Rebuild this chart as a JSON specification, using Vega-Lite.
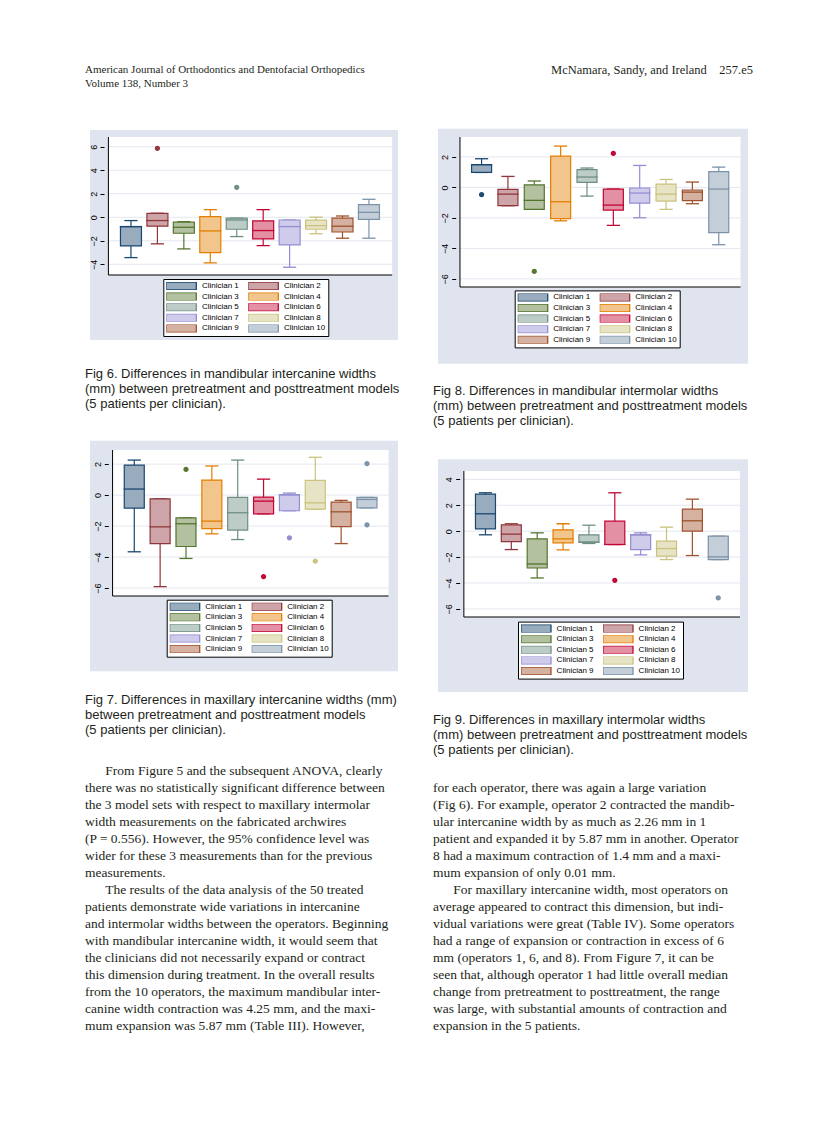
{
  "$schema": "https://vega.github.io/schema/vega-lite/v6.json",
  "background": "#ffffff",
  "padding": {"left": 85, "top": 60, "right": 10, "bottom": 10},
  "spacing": 0,
  "resolve": {"scale": {"fill": "independent", "stroke": "independent"}},
  "config": {"view": {"stroke": null}, "font": "Liberation Sans", "concat": {"spacing": 0}, "axis": {"labelOverlap": false}, "axisY": {"labelOverlap": false}, "legend": {"labelColor": "#000000"}},
  "datasets": {
    "f6": [
      {"clin": 1, "name": "Clinician 1", "lo": -3.43, "q1": -2.44, "med": -0.79, "q3": -0.79, "hi": -0.28},
      {"clin": 2, "name": "Clinician 2", "lo": -2.26, "q1": -0.76, "med": -0.28, "q3": 0.34, "hi": 0.34},
      {"clin": 3, "name": "Clinician 3", "lo": -2.69, "q1": -1.36, "med": -0.85, "q3": -0.42, "hi": -0.37},
      {"clin": 4, "name": "Clinician 4", "lo": -3.88, "q1": -3.0, "med": -1.16, "q3": 0.06, "hi": 0.65},
      {"clin": 5, "name": "Clinician 5", "lo": -1.64, "q1": -1.02, "med": -0.23, "q3": -0.08, "hi": -0.08},
      {"clin": 6, "name": "Clinician 6", "lo": -2.41, "q1": -1.84, "med": -1.13, "q3": -0.31, "hi": 0.65},
      {"clin": 7, "name": "Clinician 7", "lo": -4.25, "q1": -2.35, "med": -0.79, "q3": -0.23, "hi": -0.23},
      {"clin": 8, "name": "Clinician 8", "lo": -1.4, "q1": -1.02, "med": -0.71, "q3": -0.25, "hi": 0.01},
      {"clin": 9, "name": "Clinician 9", "lo": -1.78, "q1": -1.25, "med": -0.76, "q3": -0.08, "hi": 0.11},
      {"clin": 10, "name": "Clinician 10", "lo": -1.78, "q1": -0.17, "med": 0.42, "q3": 1.08, "hi": 1.53}
    ],
    "f6o": [
      {"clin": 2, "name": "Clinician 2", "v": 5.87},
      {"clin": 5, "name": "Clinician 5", "v": 2.55}
    ],
    "f8": [
      {"clin": 1, "name": "Clinician 1", "lo": 0.98, "q1": 0.98, "med": 1.49, "q3": 1.49, "hi": 1.88},
      {"clin": 2, "name": "Clinician 2", "lo": -1.2, "q1": -1.2, "med": -0.44, "q3": -0.13, "hi": 0.72},
      {"clin": 3, "name": "Clinician 3", "lo": -1.44, "q1": -1.44, "med": -0.85, "q3": 0.17, "hi": 0.42},
      {"clin": 4, "name": "Clinician 4", "lo": -2.19, "q1": -2.05, "med": -0.94, "q3": 2.05, "hi": 2.71},
      {"clin": 5, "name": "Clinician 5", "lo": -0.57, "q1": 0.33, "med": 0.68, "q3": 1.16, "hi": 1.27},
      {"clin": 6, "name": "Clinician 6", "lo": -2.49, "q1": -1.49, "med": -1.16, "q3": -0.11, "hi": -0.11},
      {"clin": 7, "name": "Clinician 7", "lo": -1.99, "q1": -1.03, "med": -0.37, "q3": -0.04, "hi": 1.44},
      {"clin": 8, "name": "Clinician 8", "lo": -1.44, "q1": -0.9, "med": -0.44, "q3": 0.22, "hi": 0.52},
      {"clin": 9, "name": "Clinician 9", "lo": -1.07, "q1": -0.87, "med": -0.31, "q3": -0.17, "hi": 0.35},
      {"clin": 10, "name": "Clinician 10", "lo": -3.76, "q1": -2.97, "med": -0.11, "q3": 1.03, "hi": 1.33}
    ],
    "f8o": [
      {"clin": 1, "name": "Clinician 1", "v": -0.48},
      {"clin": 3, "name": "Clinician 3", "v": -5.51},
      {"clin": 6, "name": "Clinician 6", "v": 2.23}
    ],
    "f7": [
      {"clin": 1, "name": "Clinician 1", "lo": -3.66, "q1": -0.84, "med": 0.39, "q3": 1.94, "hi": 2.26},
      {"clin": 2, "name": "Clinician 2", "lo": -5.91, "q1": -3.13, "med": -2.05, "q3": -0.24, "hi": -0.24},
      {"clin": 3, "name": "Clinician 3", "lo": -4.09, "q1": -3.32, "med": -1.85, "q3": -1.47, "hi": -1.47},
      {"clin": 4, "name": "Clinician 4", "lo": -2.5, "q1": -2.16, "med": -1.68, "q3": 0.97, "hi": 1.88},
      {"clin": 5, "name": "Clinician 5", "lo": -2.87, "q1": -2.26, "med": -1.14, "q3": -0.15, "hi": 2.26},
      {"clin": 6, "name": "Clinician 6", "lo": -1.21, "q1": -1.21, "med": -0.39, "q3": -0.13, "hi": 1.03},
      {"clin": 7, "name": "Clinician 7", "lo": -1.01, "q1": -1.01, "med": 0.02, "q3": 0.02, "hi": 0.13},
      {"clin": 8, "name": "Clinician 8", "lo": -0.91, "q1": -0.91, "med": -0.5, "q3": 0.95, "hi": 2.44},
      {"clin": 9, "name": "Clinician 9", "lo": -3.13, "q1": -2.03, "med": -1.08, "q3": -0.45, "hi": -0.34},
      {"clin": 10, "name": "Clinician 10", "lo": -0.82, "q1": -0.82, "med": -0.28, "q3": -0.15, "hi": -0.15}
    ],
    "f7o": [
      {"clin": 3, "name": "Clinician 3", "v": 1.66},
      {"clin": 6, "name": "Clinician 6", "v": -5.26},
      {"clin": 7, "name": "Clinician 7", "v": -2.76},
      {"clin": 8, "name": "Clinician 8", "v": -4.27},
      {"clin": 10, "name": "Clinician 10", "v": 2.03},
      {"clin": 10, "name": "Clinician 10", "v": -1.92}
    ],
    "f9": [
      {"clin": 1, "name": "Clinician 1", "lo": -0.28, "q1": 0.18, "med": 1.34, "q3": 2.86, "hi": 2.96},
      {"clin": 2, "name": "Clinician 2", "lo": -1.42, "q1": -0.8, "med": -0.23, "q3": 0.49, "hi": 0.57},
      {"clin": 3, "name": "Clinician 3", "lo": -3.61, "q1": -2.84, "med": -2.53, "q3": -0.59, "hi": -0.13},
      {"clin": 4, "name": "Clinician 4", "lo": -1.44, "q1": -0.9, "med": -0.59, "q3": 0.1, "hi": 0.57},
      {"clin": 5, "name": "Clinician 5", "lo": -0.95, "q1": -0.85, "med": -0.85, "q3": -0.28, "hi": 0.46},
      {"clin": 6, "name": "Clinician 6", "lo": -1.03, "q1": -1.03, "med": -1.03, "q3": 0.77, "hi": 2.96},
      {"clin": 7, "name": "Clinician 7", "lo": -1.83, "q1": -1.42, "med": -0.28, "q3": -0.28, "hi": -0.13},
      {"clin": 8, "name": "Clinician 8", "lo": -2.19, "q1": -1.93, "med": -1.34, "q3": -0.77, "hi": 0.31},
      {"clin": 9, "name": "Clinician 9", "lo": -1.88, "q1": 0.0, "med": 0.8, "q3": 1.7, "hi": 2.47},
      {"clin": 10, "name": "Clinician 10", "lo": -2.19, "q1": -2.19, "med": -1.98, "q3": -0.39, "hi": -0.39}
    ],
    "f9o": [
      {"clin": 6, "name": "Clinician 6", "v": -3.79},
      {"clin": 10, "name": "Clinician 10", "v": -5.15}
    ],
    "g6": [{"g": -4}, {"g": -2}, {"g": 0}, {"g": 2}, {"g": 4}, {"g": 6}],
    "g8": [{"g": -6}, {"g": -4}, {"g": -2}, {"g": 0}, {"g": 2}],
    "g9": [{"g": -6}, {"g": -4}, {"g": -2}, {"g": 0}, {"g": 2}, {"g": 4}],
    "panel": [{"p": "panel"}],
    "hdrL": [
      {"line": 1, "txt": "American Journal of Orthodontics and Dentofacial Orthopedics"},
      {"line": 2, "txt": "Volume 138, Number 3"}
    ],
    "hdrR": [
      {"line": 1, "txt": "McNamara, Sandy, and Ireland\u2003257.e5"}
    ],
    "cap6": [
      {"line": 1, "txt": "Fig 6. Differences in mandibular intercanine widths"},
      {"line": 2, "txt": "(mm) between pretreatment and posttreatment models"},
      {"line": 3, "txt": "(5 patients per clinician)."}
    ],
    "cap8": [
      {"line": 1, "txt": "Fig 8. Differences in mandibular intermolar widths"},
      {"line": 2, "txt": "(mm) between pretreatment and posttreatment models"},
      {"line": 3, "txt": "(5 patients per clinician)."}
    ],
    "cap7": [
      {"line": 1, "txt": "Fig 7. Differences in maxillary intercanine widths (mm)"},
      {"line": 2, "txt": "between pretreatment and posttreatment models"},
      {"line": 3, "txt": "(5 patients per clinician)."}
    ],
    "cap9": [
      {"line": 1, "txt": "Fig 9. Differences in maxillary intermolar widths"},
      {"line": 2, "txt": "(mm) between pretreatment and posttreatment models"},
      {"line": 3, "txt": "(5 patients per clinician)."}
    ],
    "bodyL": [
      {"line": 1, "txt": "\u200b\u2003\u2002From Figure 5 and the subsequent ANOVA, clearly"},
      {"line": 2, "txt": "there was no statistically significant difference between"},
      {"line": 3, "txt": "the 3 model sets with respect to maxillary intermolar"},
      {"line": 4, "txt": "width measurements on the fabricated archwires"},
      {"line": 5, "txt": "(P = 0.556). However, the 95% confidence level was"},
      {"line": 6, "txt": "wider for these 3 measurements than for the previous"},
      {"line": 7, "txt": "measurements."},
      {"line": 8, "txt": "\u200b\u2003\u2002The results of the data analysis of the 50 treated"},
      {"line": 9, "txt": "patients demonstrate wide variations in intercanine"},
      {"line": 10, "txt": "and intermolar widths between the operators. Beginning"},
      {"line": 11, "txt": "with mandibular intercanine width, it would seem that"},
      {"line": 12, "txt": "the clinicians did not necessarily expand or contract"},
      {"line": 13, "txt": "this dimension during treatment. In the overall results"},
      {"line": 14, "txt": "from the 10 operators, the maximum mandibular inter-"},
      {"line": 15, "txt": "canine width contraction was 4.25 mm, and the maxi-"},
      {"line": 16, "txt": "mum expansion was 5.87 mm (Table III). However,"}
    ],
    "bodyR": [
      {"line": 1, "txt": "for each operator, there was again a large variation"},
      {"line": 2, "txt": "(Fig 6). For example, operator 2 contracted the mandib-"},
      {"line": 3, "txt": "ular intercanine width by as much as 2.26 mm in 1"},
      {"line": 4, "txt": "patient and expanded it by 5.87 mm in another. Operator"},
      {"line": 5, "txt": "8 had a maximum contraction of 1.4 mm and a maxi-"},
      {"line": 6, "txt": "mum expansion of only 0.01 mm."},
      {"line": 7, "txt": "\u200b\u2003\u2002For maxillary intercanine width, most operators on"},
      {"line": 8, "txt": "average appeared to contract this dimension, but indi-"},
      {"line": 9, "txt": "vidual variations were great (Table IV). Some operators"},
      {"line": 10, "txt": "had a range of expansion or contraction in excess of 6"},
      {"line": 11, "txt": "mm (operators 1, 6, and 8). From Figure 7, it can be"},
      {"line": 12, "txt": "seen that, although operator 1 had little overall median"},
      {"line": 13, "txt": "change from pretreatment to posttreatment, the range"},
      {"line": 14, "txt": "was large, with substantial amounts of contraction and"},
      {"line": 15, "txt": "expansion in the 5 patients."}
    ]
  },
  "vconcat": [
    {
      "width": 668, "height": 68,
      "layer": [
        {
          "data": {"name": "hdrL"},
          "mark": {"type": "text", "align": "left", "baseline": "middle", "font": "Liberation Serif", "fontSize": 11, "color": "#231f20"},
          "encoding": {
            "x": {"datum": 0, "type": "quantitative", "scale": {"domain": [0, 1], "nice": false, "zero": false}, "axis": null},
            "y": {"field": "line", "type": "quantitative", "scale": {"domain": [0.286, 5.143], "reverse": true, "nice": false, "zero": false}, "axis": null},
            "text": {"field": "txt"}
          }
        },
        {
          "data": {"name": "hdrR"},
          "mark": {"type": "text", "align": "right", "baseline": "middle", "font": "Liberation Serif", "fontSize": 12.5, "color": "#231f20"},
          "encoding": {
            "x": {"datum": 1, "type": "quantitative", "axis": null},
            "y": {"field": "line", "type": "quantitative", "axis": null},
            "text": {"field": "txt"}
          }
        }
      ]
    },
    {
      "spacing": 30,
      "resolve": {"scale": {"fill": "independent", "stroke": "independent"}},
      "hconcat": [
        {
          "spacing": 0,
          "resolve": {"scale": {"fill": "independent", "stroke": "independent"}},
          "vconcat": [
            {
              "width": 318, "height": 138,
              "layer": [
                {"data": {"name": "panel"}, "mark": {"type": "rect", "color": "#dfe4ee"},
                 "encoding": {"x": {"datum": -0.549, "type": "quantitative", "scale": {"domain": [-0.549, 11.099], "nice": false, "zero": false}, "axis": null}, "x2": {"datum": 11.099},
                              "y": {"datum": -10.43, "type": "quantitative", "scale": {"domain": [-4.91, 6.83], "nice": false, "zero": false}}, "y2": {"datum": 7.42}}},
                {"data": {"name": "panel"}, "mark": {"type": "rect", "color": "#ffffff"},
                 "encoding": {"x": {"datum": 0.147, "type": "quantitative", "axis": null}, "x2": {"datum": 10.879},
                              "y": {"datum": -4.91, "type": "quantitative"}, "y2": {"datum": 6.83}}},
                {"data": {"name": "g6"}, "mark": {"type": "rule", "color": "#e3e7ef", "strokeWidth": 1},
                 "encoding": {"x": {"datum": 0.147, "type": "quantitative", "axis": null}, "x2": {"datum": 10.879},
                              "y": {"field": "g", "type": "quantitative", "axis": {"values": [-4, -2, 0, 2, 4, 6], "format": "d", "tickCount": 20, "offset": -19, "title": null, "grid": false, "domain": false, "labelOverlap": false, "labelAngle": -90, "labelFont": "Liberation Sans", "labelFontSize": 9, "labelColor": "#000000", "tickColor": "#000000", "tickSize": 4, "tickWidth": 1, "labelPadding": 2, "zindex": 1}}}},
                {"data": {"name": "panel"}, "mark": {"type": "rule", "color": "#000000", "strokeWidth": 1},
                 "encoding": {"x": {"datum": 0.147, "type": "quantitative", "axis": null}, "y": {"datum": -4.91, "type": "quantitative"}, "y2": {"datum": 6.83}}},
                {"data": {"name": "panel"}, "mark": {"type": "rule", "color": "#000000", "strokeWidth": 1},
                 "encoding": {"x": {"datum": 0.147, "type": "quantitative", "axis": null}, "x2": {"datum": 10.879}, "y": {"datum": -4.91, "type": "quantitative"}}},
                {"data": {"name": "f6"}, "mark": {"type": "rule", "strokeWidth": 1.2},
                 "encoding": {"x": {"field": "clin", "type": "quantitative", "axis": null},
                              "y": {"field": "lo", "type": "quantitative"}, "y2": {"field": "hi"},
                              "stroke": {"field": "name", "type": "nominal", "scale": {"domain": ["Clinician 1", "Clinician 2", "Clinician 3", "Clinician 4", "Clinician 5", "Clinician 6", "Clinician 7", "Clinician 8", "Clinician 9", "Clinician 10"], "range": ["#1a476f", "#90353b", "#55752f", "#e37e00", "#6e8e84", "#c10534", "#938dd2", "#cac27e", "#a0522d", "#7b92a8"]}}}},
                {"data": {"name": "f6"}, "mark": {"type": "tick", "orient": "horizontal", "size": 12, "thickness": 0.1, "filled": false, "strokeWidth": 1.2, "opacity": 1},
                 "encoding": {"x": {"field": "clin", "type": "quantitative", "axis": null}, "y": {"field": "lo", "type": "quantitative"}, "stroke": {"field": "name", "type": "nominal"}}},
                {"data": {"name": "f6"}, "mark": {"type": "tick", "orient": "horizontal", "size": 12, "thickness": 0.1, "filled": false, "strokeWidth": 1.2, "opacity": 1},
                 "encoding": {"x": {"field": "clin", "type": "quantitative", "axis": null}, "y": {"field": "hi", "type": "quantitative"}, "stroke": {"field": "name", "type": "nominal"}}},
                {"data": {"name": "f6"}, "mark": {"type": "bar", "size": 21, "strokeWidth": 1.2, "opacity": 1},
                 "encoding": {"x": {"field": "clin", "type": "quantitative", "axis": null}, "y": {"field": "q1", "type": "quantitative"}, "y2": {"field": "q3"},
                              "fill": {"field": "name", "type": "nominal", "scale": {"domain": ["Clinician 1", "Clinician 2", "Clinician 3", "Clinician 4", "Clinician 5", "Clinician 6", "Clinician 7", "Clinician 8", "Clinician 9", "Clinician 10"], "range": ["#98acbe", "#cda4a7", "#b3c1a1", "#f2c58c", "#beccc8", "#e38fa4", "#ceccea", "#e7e4c5", "#d4b1a0", "#c4ced8"]},
                                       "legend": {"orient": "none", "legendX": 78.3, "legendY": 142, "title": null, "direction": "horizontal", "columns": 2, "fillColor": "#ffffff", "strokeColor": "#000000", "padding": 3, "symbolType": "M-3.75,-1H3.75V1H-3.75Z", "symbolSize": 64, "symbolStrokeWidth": 1.3, "symbolOffset": 10, "labelOffset": 15.6, "clipHeight": 8, "labelFont": "Liberation Sans", "labelFontSize": 8, "labelColor": "#000000", "columnPadding": 9, "rowPadding": 2.6, "zindex": 1}},
                              "stroke": {"field": "name", "type": "nominal",
                                       "legend": {"orient": "none", "legendX": 78.3, "legendY": 142, "title": null, "direction": "horizontal", "columns": 2, "fillColor": "#ffffff", "strokeColor": "#000000", "padding": 3, "symbolType": "M-3.75,-1H3.75V1H-3.75Z", "symbolSize": 64, "symbolStrokeWidth": 1.3, "symbolOffset": 10, "labelOffset": 15.6, "clipHeight": 8, "labelFont": "Liberation Sans", "labelFontSize": 8, "labelColor": "#000000", "columnPadding": 9, "rowPadding": 2.6, "zindex": 1}}}},
                {"data": {"name": "f6"}, "mark": {"type": "tick", "orient": "horizontal", "size": 21, "thickness": 0.1, "filled": false, "strokeWidth": 1.2, "opacity": 1},
                 "encoding": {"x": {"field": "clin", "type": "quantitative", "axis": null}, "y": {"field": "med", "type": "quantitative"}, "stroke": {"field": "name", "type": "nominal"}}},
                {"data": {"name": "f6o"}, "mark": {"type": "circle", "size": 8, "filled": false, "strokeWidth": 2.4, "opacity": 1},
                 "encoding": {"x": {"field": "clin", "type": "quantitative", "axis": null}, "y": {"field": "v", "type": "quantitative"}, "stroke": {"field": "name", "type": "nominal"}}}
              ]
            },
            {
              "width": 318, "height": 100,
              "data": {"name": "cap6"},
              "mark": {"type": "text", "align": "left", "baseline": "middle", "font": "Liberation Sans", "fontSize": 13, "color": "#231f20"},
              "encoding": {
                "x": {"datum": 0, "type": "quantitative", "scale": {"domain": [0, 1], "nice": false, "zero": false}, "axis": null},
                "y": {"field": "line", "type": "quantitative", "scale": {"domain": [-1.247, 5.42], "reverse": true, "nice": false, "zero": false}, "axis": null},
                "text": {"field": "txt"}
              }
            },
            {
              "width": 318, "height": 146,
              "layer": [
                {"data": {"name": "panel"}, "mark": {"type": "rect", "color": "#dfe4ee"},
                 "encoding": {"x": {"datum": -0.712, "type": "quantitative", "scale": {"domain": [-0.712, 11.199], "nice": false, "zero": false}, "axis": null}, "x2": {"datum": 11.199},
                              "y": {"datum": -11.365, "type": "quantitative", "scale": {"domain": [-6.514, 2.911], "nice": false, "zero": false}}, "y2": {"datum": 3.512}}},
                {"data": {"name": "panel"}, "mark": {"type": "rect", "color": "#ffffff"},
                 "encoding": {"x": {"datum": 0.161, "type": "quantitative", "axis": null}, "x2": {"datum": 10.835},
                              "y": {"datum": -6.514, "type": "quantitative"}, "y2": {"datum": 2.911}}},
                {"data": {"name": "g8"}, "mark": {"type": "rule", "color": "#e3e7ef", "strokeWidth": 1},
                 "encoding": {"x": {"datum": 0.161, "type": "quantitative", "axis": null}, "x2": {"datum": 10.835},
                              "y": {"field": "g", "type": "quantitative", "axis": {"values": [-6, -4, -2, 0, 2], "format": "d", "tickCount": 20, "offset": -23.3, "title": null, "grid": false, "domain": false, "labelOverlap": false, "labelAngle": -90, "labelFont": "Liberation Sans", "labelFontSize": 9, "labelColor": "#000000", "tickColor": "#000000", "tickSize": 4, "tickWidth": 1, "labelPadding": 2, "zindex": 1}}}},
                {"data": {"name": "panel"}, "mark": {"type": "rule", "color": "#000000", "strokeWidth": 1},
                 "encoding": {"x": {"datum": 0.161, "type": "quantitative", "axis": null}, "y": {"datum": -6.514, "type": "quantitative"}, "y2": {"datum": 2.911}}},
                {"data": {"name": "panel"}, "mark": {"type": "rule", "color": "#000000", "strokeWidth": 1},
                 "encoding": {"x": {"datum": 0.161, "type": "quantitative", "axis": null}, "x2": {"datum": 10.835}, "y": {"datum": -6.514, "type": "quantitative"}}},
                {"data": {"name": "f7"}, "mark": {"type": "rule", "strokeWidth": 1.2},
                 "encoding": {"x": {"field": "clin", "type": "quantitative", "axis": null},
                              "y": {"field": "lo", "type": "quantitative"}, "y2": {"field": "hi"},
                              "stroke": {"field": "name", "type": "nominal", "scale": {"domain": ["Clinician 1", "Clinician 2", "Clinician 3", "Clinician 4", "Clinician 5", "Clinician 6", "Clinician 7", "Clinician 8", "Clinician 9", "Clinician 10"], "range": ["#1a476f", "#90353b", "#55752f", "#e37e00", "#6e8e84", "#c10534", "#938dd2", "#cac27e", "#a0522d", "#7b92a8"]}}}},
                {"data": {"name": "f7"}, "mark": {"type": "tick", "orient": "horizontal", "size": 12, "thickness": 0.1, "filled": false, "strokeWidth": 1.2, "opacity": 1},
                 "encoding": {"x": {"field": "clin", "type": "quantitative", "axis": null}, "y": {"field": "lo", "type": "quantitative"}, "stroke": {"field": "name", "type": "nominal"}}},
                {"data": {"name": "f7"}, "mark": {"type": "tick", "orient": "horizontal", "size": 12, "thickness": 0.1, "filled": false, "strokeWidth": 1.2, "opacity": 1},
                 "encoding": {"x": {"field": "clin", "type": "quantitative", "axis": null}, "y": {"field": "hi", "type": "quantitative"}, "stroke": {"field": "name", "type": "nominal"}}},
                {"data": {"name": "f7"}, "mark": {"type": "bar", "size": 20, "strokeWidth": 1.2, "opacity": 1},
                 "encoding": {"x": {"field": "clin", "type": "quantitative", "axis": null}, "y": {"field": "q1", "type": "quantitative"}, "y2": {"field": "q3"},
                              "fill": {"field": "name", "type": "nominal", "scale": {"domain": ["Clinician 1", "Clinician 2", "Clinician 3", "Clinician 4", "Clinician 5", "Clinician 6", "Clinician 7", "Clinician 8", "Clinician 9", "Clinician 10"], "range": ["#98acbe", "#cda4a7", "#b3c1a1", "#f2c58c", "#beccc8", "#e38fa4", "#ceccea", "#e7e4c5", "#d4b1a0", "#c4ced8"]},
                                       "legend": {"orient": "none", "legendX": 81.7, "legendY": 149.7, "title": null, "direction": "horizontal", "columns": 2, "fillColor": "#ffffff", "strokeColor": "#000000", "padding": 3, "symbolType": "M-3.75,-1H3.75V1H-3.75Z", "symbolSize": 64, "symbolStrokeWidth": 1.3, "symbolOffset": 10, "labelOffset": 15.6, "clipHeight": 8, "labelFont": "Liberation Sans", "labelFontSize": 8, "labelColor": "#000000", "columnPadding": 9, "rowPadding": 2.6, "zindex": 1}},
                              "stroke": {"field": "name", "type": "nominal",
                                       "legend": {"orient": "none", "legendX": 81.7, "legendY": 149.7, "title": null, "direction": "horizontal", "columns": 2, "fillColor": "#ffffff", "strokeColor": "#000000", "padding": 3, "symbolType": "M-3.75,-1H3.75V1H-3.75Z", "symbolSize": 64, "symbolStrokeWidth": 1.3, "symbolOffset": 10, "labelOffset": 15.6, "clipHeight": 8, "labelFont": "Liberation Sans", "labelFontSize": 8, "labelColor": "#000000", "columnPadding": 9, "rowPadding": 2.6, "zindex": 1}}}},
                {"data": {"name": "f7"}, "mark": {"type": "tick", "orient": "horizontal", "size": 20, "thickness": 0.1, "filled": false, "strokeWidth": 1.2, "opacity": 1},
                 "encoding": {"x": {"field": "clin", "type": "quantitative", "axis": null}, "y": {"field": "med", "type": "quantitative"}, "stroke": {"field": "name", "type": "nominal"}}},
                {"data": {"name": "f7o"}, "mark": {"type": "circle", "size": 8, "filled": false, "strokeWidth": 2.4, "opacity": 1},
                 "encoding": {"x": {"field": "clin", "type": "quantitative", "axis": null}, "y": {"field": "v", "type": "quantitative"}, "stroke": {"field": "name", "type": "nominal"}}}
              ]
            },
            {
              "width": 318, "height": 77,
              "data": {"name": "cap7"},
              "mark": {"type": "text", "align": "left", "baseline": "middle", "font": "Liberation Sans", "fontSize": 13, "color": "#231f20"},
              "encoding": {
                "x": {"datum": 0, "type": "quantitative", "scale": {"domain": [0, 1], "nice": false, "zero": false}, "axis": null},
                "y": {"field": "line", "type": "quantitative", "scale": {"domain": [-0.847, 4.287], "reverse": true, "nice": false, "zero": false}, "axis": null},
                "text": {"field": "txt"}
              }
            },
            {
              "width": 318, "height": 295,
              "data": {"name": "bodyL"},
              "mark": {"type": "text", "align": "left", "baseline": "middle", "font": "Liberation Serif", "fontSize": 13.5, "color": "#231f20"},
              "encoding": {
                "x": {"datum": 0, "type": "quantitative", "scale": {"domain": [0, 1], "nice": false, "zero": false}, "axis": null},
                "y": {"field": "line", "type": "quantitative", "scale": {"domain": [-0.294, 17.059], "reverse": true, "nice": false, "zero": false}, "axis": null},
                "text": {"field": "txt"}
              }
            }
          ]
        },
        {
          "spacing": 0,
          "resolve": {"scale": {"fill": "independent", "stroke": "independent"}},
          "vconcat": [
            {
              "width": 320, "height": 150,
              "layer": [
                {"data": {"name": "panel"}, "mark": {"type": "rect", "color": "#dfe4ee"},
                 "encoding": {"x": {"datum": -0.654, "type": "quantitative", "scale": {"domain": [-0.654, 11.11], "nice": false, "zero": false}, "axis": null}, "x2": {"datum": 11.11},
                              "y": {"datum": -11.56, "type": "quantitative", "scale": {"domain": [-6.531, 3.305], "nice": false, "zero": false}}, "y2": {"datum": 3.849}}},
                {"data": {"name": "panel"}, "mark": {"type": "rect", "color": "#ffffff"},
                 "encoding": {"x": {"datum": 0.18, "type": "quantitative", "axis": null}, "x2": {"datum": 10.827},
                              "y": {"datum": -6.531, "type": "quantitative"}, "y2": {"datum": 3.305}}},
                {"data": {"name": "g8"}, "mark": {"type": "rule", "color": "#e3e7ef", "strokeWidth": 1},
                 "encoding": {"x": {"datum": 0.18, "type": "quantitative", "axis": null}, "x2": {"datum": 10.827},
                              "y": {"field": "g", "type": "quantitative", "axis": {"values": [-6, -4, -2, 0, 2], "format": "d", "tickCount": 20, "offset": -22.7, "title": null, "grid": false, "domain": false, "labelOverlap": false, "labelAngle": -90, "labelFont": "Liberation Sans", "labelFontSize": 9, "labelColor": "#000000", "tickColor": "#000000", "tickSize": 4, "tickWidth": 1, "labelPadding": 2, "zindex": 1}}}},
                {"data": {"name": "panel"}, "mark": {"type": "rule", "color": "#000000", "strokeWidth": 1},
                 "encoding": {"x": {"datum": 0.18, "type": "quantitative", "axis": null}, "y": {"datum": -6.531, "type": "quantitative"}, "y2": {"datum": 3.305}}},
                {"data": {"name": "panel"}, "mark": {"type": "rule", "color": "#000000", "strokeWidth": 1},
                 "encoding": {"x": {"datum": 0.18, "type": "quantitative", "axis": null}, "x2": {"datum": 10.827}, "y": {"datum": -6.531, "type": "quantitative"}}},
                {"data": {"name": "f8"}, "mark": {"type": "rule", "strokeWidth": 1.2},
                 "encoding": {"x": {"field": "clin", "type": "quantitative", "axis": null},
                              "y": {"field": "lo", "type": "quantitative"}, "y2": {"field": "hi"},
                              "stroke": {"field": "name", "type": "nominal", "scale": {"domain": ["Clinician 1", "Clinician 2", "Clinician 3", "Clinician 4", "Clinician 5", "Clinician 6", "Clinician 7", "Clinician 8", "Clinician 9", "Clinician 10"], "range": ["#1a476f", "#90353b", "#55752f", "#e37e00", "#6e8e84", "#c10534", "#938dd2", "#cac27e", "#a0522d", "#7b92a8"]}}}},
                {"data": {"name": "f8"}, "mark": {"type": "tick", "orient": "horizontal", "size": 12, "thickness": 0.1, "filled": false, "strokeWidth": 1.2, "opacity": 1},
                 "encoding": {"x": {"field": "clin", "type": "quantitative", "axis": null}, "y": {"field": "lo", "type": "quantitative"}, "stroke": {"field": "name", "type": "nominal"}}},
                {"data": {"name": "f8"}, "mark": {"type": "tick", "orient": "horizontal", "size": 12, "thickness": 0.1, "filled": false, "strokeWidth": 1.2, "opacity": 1},
                 "encoding": {"x": {"field": "clin", "type": "quantitative", "axis": null}, "y": {"field": "hi", "type": "quantitative"}, "stroke": {"field": "name", "type": "nominal"}}},
                {"data": {"name": "f8"}, "mark": {"type": "bar", "size": 20, "strokeWidth": 1.2, "opacity": 1},
                 "encoding": {"x": {"field": "clin", "type": "quantitative", "axis": null}, "y": {"field": "q1", "type": "quantitative"}, "y2": {"field": "q3"},
                              "fill": {"field": "name", "type": "nominal", "scale": {"domain": ["Clinician 1", "Clinician 2", "Clinician 3", "Clinician 4", "Clinician 5", "Clinician 6", "Clinician 7", "Clinician 8", "Clinician 9", "Clinician 10"], "range": ["#98acbe", "#cda4a7", "#b3c1a1", "#f2c58c", "#beccc8", "#e38fa4", "#ceccea", "#e7e4c5", "#d4b1a0", "#c4ced8"]},
                                       "legend": {"orient": "none", "legendX": 81.7, "legendY": 153.4, "title": null, "direction": "horizontal", "columns": 2, "fillColor": "#ffffff", "strokeColor": "#000000", "padding": 3, "symbolType": "M-3.75,-1H3.75V1H-3.75Z", "symbolSize": 64, "symbolStrokeWidth": 1.3, "symbolOffset": 10, "labelOffset": 15.6, "clipHeight": 8, "labelFont": "Liberation Sans", "labelFontSize": 8, "labelColor": "#000000", "columnPadding": 9, "rowPadding": 2.6, "zindex": 1}},
                              "stroke": {"field": "name", "type": "nominal",
                                       "legend": {"orient": "none", "legendX": 81.7, "legendY": 153.4, "title": null, "direction": "horizontal", "columns": 2, "fillColor": "#ffffff", "strokeColor": "#000000", "padding": 3, "symbolType": "M-3.75,-1H3.75V1H-3.75Z", "symbolSize": 64, "symbolStrokeWidth": 1.3, "symbolOffset": 10, "labelOffset": 15.6, "clipHeight": 8, "labelFont": "Liberation Sans", "labelFontSize": 8, "labelColor": "#000000", "columnPadding": 9, "rowPadding": 2.6, "zindex": 1}}}},
                {"data": {"name": "f8"}, "mark": {"type": "tick", "orient": "horizontal", "size": 20, "thickness": 0.1, "filled": false, "strokeWidth": 1.2, "opacity": 1},
                 "encoding": {"x": {"field": "clin", "type": "quantitative", "axis": null}, "y": {"field": "med", "type": "quantitative"}, "stroke": {"field": "name", "type": "nominal"}}},
                {"data": {"name": "f8o"}, "mark": {"type": "circle", "size": 8, "filled": false, "strokeWidth": 2.4, "opacity": 1},
                 "encoding": {"x": {"field": "clin", "type": "quantitative", "axis": null}, "y": {"field": "v", "type": "quantitative"}, "stroke": {"field": "name", "type": "nominal"}}}
              ]
            },
            {
              "width": 320, "height": 95,
              "data": {"name": "cap8"},
              "mark": {"type": "text", "align": "left", "baseline": "middle", "font": "Liberation Sans", "fontSize": 13, "color": "#231f20"},
              "encoding": {
                "x": {"datum": 0, "type": "quantitative", "scale": {"domain": [0, 1], "nice": false, "zero": false}, "axis": null},
                "y": {"field": "line", "type": "quantitative", "scale": {"domain": [-0.745, 5.464], "reverse": true, "nice": false, "zero": false}, "axis": null},
                "text": {"field": "txt"}
              }
            },
            {
              "width": 320, "height": 146,
              "layer": [
                {"data": {"name": "panel"}, "mark": {"type": "rect", "color": "#dfe4ee"},
                 "encoding": {"x": {"datum": -0.835, "type": "quantitative", "scale": {"domain": [-0.835, 11.15], "nice": false, "zero": false}, "axis": null}, "x2": {"datum": 11.15},
                              "y": {"datum": -12.4, "type": "quantitative", "scale": {"domain": [-6.62, 4.64], "nice": false, "zero": false}}, "y2": {"datum": 5.545}}},
                {"data": {"name": "panel"}, "mark": {"type": "rect", "color": "#ffffff"},
                 "encoding": {"x": {"datum": 0.165, "type": "quantitative", "axis": null}, "x2": {"datum": 10.839},
                              "y": {"datum": -6.62, "type": "quantitative"}, "y2": {"datum": 4.64}}},
                {"data": {"name": "g9"}, "mark": {"type": "rule", "color": "#e3e7ef", "strokeWidth": 1},
                 "encoding": {"x": {"datum": 0.165, "type": "quantitative", "axis": null}, "x2": {"datum": 10.839},
                              "y": {"field": "g", "type": "quantitative", "axis": {"values": [-6, -4, -2, 0, 2, 4], "format": "d", "tickCount": 20, "offset": -26.7, "title": null, "grid": false, "domain": false, "labelOverlap": false, "labelAngle": -90, "labelFont": "Liberation Sans", "labelFontSize": 9, "labelColor": "#000000", "tickColor": "#000000", "tickSize": 4, "tickWidth": 1, "labelPadding": 2, "zindex": 1}}}},
                {"data": {"name": "panel"}, "mark": {"type": "rule", "color": "#000000", "strokeWidth": 1},
                 "encoding": {"x": {"datum": 0.165, "type": "quantitative", "axis": null}, "y": {"datum": -6.62, "type": "quantitative"}, "y2": {"datum": 4.64}}},
                {"data": {"name": "panel"}, "mark": {"type": "rule", "color": "#000000", "strokeWidth": 1},
                 "encoding": {"x": {"datum": 0.165, "type": "quantitative", "axis": null}, "x2": {"datum": 10.839}, "y": {"datum": -6.62, "type": "quantitative"}}},
                {"data": {"name": "f9"}, "mark": {"type": "rule", "strokeWidth": 1.2},
                 "encoding": {"x": {"field": "clin", "type": "quantitative", "axis": null},
                              "y": {"field": "lo", "type": "quantitative"}, "y2": {"field": "hi"},
                              "stroke": {"field": "name", "type": "nominal", "scale": {"domain": ["Clinician 1", "Clinician 2", "Clinician 3", "Clinician 4", "Clinician 5", "Clinician 6", "Clinician 7", "Clinician 8", "Clinician 9", "Clinician 10"], "range": ["#1a476f", "#90353b", "#55752f", "#e37e00", "#6e8e84", "#c10534", "#938dd2", "#cac27e", "#a0522d", "#7b92a8"]}}}},
                {"data": {"name": "f9"}, "mark": {"type": "tick", "orient": "horizontal", "size": 12, "thickness": 0.1, "filled": false, "strokeWidth": 1.2, "opacity": 1},
                 "encoding": {"x": {"field": "clin", "type": "quantitative", "axis": null}, "y": {"field": "lo", "type": "quantitative"}, "stroke": {"field": "name", "type": "nominal"}}},
                {"data": {"name": "f9"}, "mark": {"type": "tick", "orient": "horizontal", "size": 12, "thickness": 0.1, "filled": false, "strokeWidth": 1.2, "opacity": 1},
                 "encoding": {"x": {"field": "clin", "type": "quantitative", "axis": null}, "y": {"field": "hi", "type": "quantitative"}, "stroke": {"field": "name", "type": "nominal"}}},
                {"data": {"name": "f9"}, "mark": {"type": "bar", "size": 20, "strokeWidth": 1.2, "opacity": 1},
                 "encoding": {"x": {"field": "clin", "type": "quantitative", "axis": null}, "y": {"field": "q1", "type": "quantitative"}, "y2": {"field": "q3"},
                              "fill": {"field": "name", "type": "nominal", "scale": {"domain": ["Clinician 1", "Clinician 2", "Clinician 3", "Clinician 4", "Clinician 5", "Clinician 6", "Clinician 7", "Clinician 8", "Clinician 9", "Clinician 10"], "range": ["#98acbe", "#cda4a7", "#b3c1a1", "#f2c58c", "#beccc8", "#e38fa4", "#ceccea", "#e7e4c5", "#d4b1a0", "#c4ced8"]},
                                       "legend": {"orient": "none", "legendX": 85, "legendY": 150.6, "title": null, "direction": "horizontal", "columns": 2, "fillColor": "#ffffff", "strokeColor": "#000000", "padding": 3, "symbolType": "M-3.75,-1H3.75V1H-3.75Z", "symbolSize": 64, "symbolStrokeWidth": 1.3, "symbolOffset": 10, "labelOffset": 15.6, "clipHeight": 8, "labelFont": "Liberation Sans", "labelFontSize": 8, "labelColor": "#000000", "columnPadding": 9, "rowPadding": 2.6, "zindex": 1}},
                              "stroke": {"field": "name", "type": "nominal",
                                       "legend": {"orient": "none", "legendX": 85, "legendY": 150.6, "title": null, "direction": "horizontal", "columns": 2, "fillColor": "#ffffff", "strokeColor": "#000000", "padding": 3, "symbolType": "M-3.75,-1H3.75V1H-3.75Z", "symbolSize": 64, "symbolStrokeWidth": 1.3, "symbolOffset": 10, "labelOffset": 15.6, "clipHeight": 8, "labelFont": "Liberation Sans", "labelFontSize": 8, "labelColor": "#000000", "columnPadding": 9, "rowPadding": 2.6, "zindex": 1}}}},
                {"data": {"name": "f9"}, "mark": {"type": "tick", "orient": "horizontal", "size": 20, "thickness": 0.1, "filled": false, "strokeWidth": 1.2, "opacity": 1},
                 "encoding": {"x": {"field": "clin", "type": "quantitative", "axis": null}, "y": {"field": "med", "type": "quantitative"}, "stroke": {"field": "name", "type": "nominal"}}},
                {"data": {"name": "f9o"}, "mark": {"type": "circle", "size": 8, "filled": false, "strokeWidth": 2.4, "opacity": 1},
                 "encoding": {"x": {"field": "clin", "type": "quantitative", "axis": null}, "y": {"field": "v", "type": "quantitative"}, "stroke": {"field": "name", "type": "nominal"}}}
              ]
            },
            {
              "width": 320, "height": 75,
              "data": {"name": "cap9"},
              "mark": {"type": "text", "align": "left", "baseline": "middle", "font": "Liberation Sans", "fontSize": 13, "color": "#231f20"},
              "encoding": {
                "x": {"datum": 0, "type": "quantitative", "scale": {"domain": [0, 1], "nice": false, "zero": false}, "axis": null},
                "y": {"field": "line", "type": "quantitative", "scale": {"domain": [-0.847, 4.153], "reverse": true, "nice": false, "zero": false}, "axis": null},
                "text": {"field": "txt"}
              }
            },
            {
              "width": 320, "height": 275,
              "data": {"name": "bodyR"},
              "mark": {"type": "text", "align": "left", "baseline": "middle", "font": "Liberation Serif", "fontSize": 13.5, "color": "#231f20"},
              "encoding": {
                "x": {"datum": 0, "type": "quantitative", "scale": {"domain": [0, 1], "nice": false, "zero": false}, "axis": null},
                "y": {"field": "line", "type": "quantitative", "scale": {"domain": [-0.235, 15.941], "reverse": true, "nice": false, "zero": false}, "axis": null},
                "text": {"field": "txt"}
              }
            }
          ]
        }
      ]
    }
  ]
}
